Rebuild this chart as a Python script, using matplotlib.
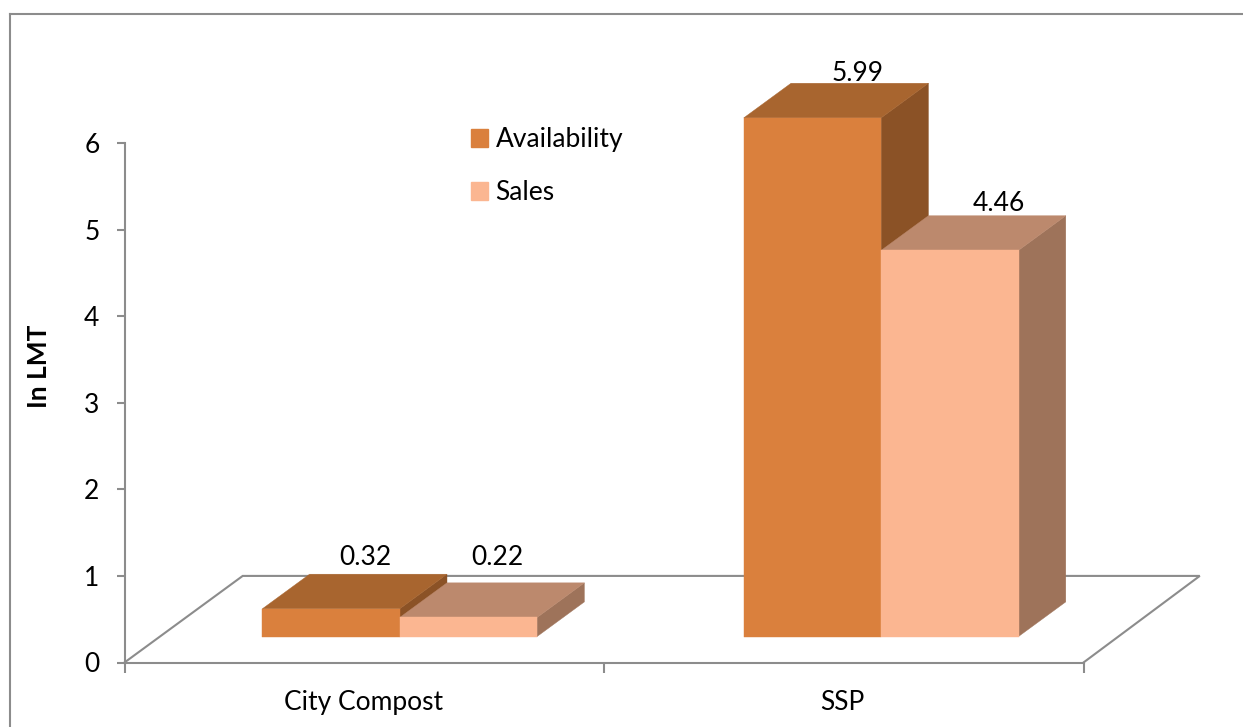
import matplotlib
matplotlib.use("Agg")
import matplotlib.pyplot as plt
from matplotlib.patches import Patch, Polygon

categories = ["City Compost", "SSP"]
series_names = ["Availability", "Sales"]
availability = [0.32, 5.99]
sales = [0.22, 4.46]
y_ticks = [0, 1, 2, 3, 4, 5, 6]

# colours of the three visible faces: front, top, side
AVAIL_COLORS = ("#DA803D", "#A8652F", "#8B5226")
SALES_COLORS = ("#FBB691", "#BC896D", "#9E735A")
GREY = "#8C8C8C"
FONT_SIZE = 19

# the fake 3d: one unit of depth moves this far along x and y
SKEW_X = 0.2465
SKEW_Y = 1.0
BAR_W = 0.2865
BAR_FRONT = 0.30
BAR_BACK = 0.70
GROUP_CENTERS = [0.5, 1.504]

# value labels were placed by hand in the original, offsets in pixels
AVAIL_LABEL_OFFSET = [(-13, 17), (-2, 10)]
SALES_LABEL_OFFSET = [(-18, 25), (2, 12)]

plt.rcParams["font.family"] = ["Lato", "DejaVu Sans"]


def Project(x, y, depth):
    return (x + depth * SKEW_X, y + depth * SKEW_Y)


def DrawBar(ax, left, value, colors, offset):
    right = left + BAR_W
    base = 0
    front = [Project(left, base, BAR_FRONT), Project(right, base, BAR_FRONT),
             Project(right, value, BAR_FRONT), Project(left, value, BAR_FRONT)]
    top = [Project(left, value, BAR_FRONT), Project(right, value, BAR_FRONT),
           Project(right, value, BAR_BACK), Project(left, value, BAR_BACK)]
    side = [Project(right, base, BAR_FRONT), Project(right, base, BAR_BACK),
            Project(right, value, BAR_BACK), Project(right, value, BAR_FRONT)]
    for pts, col in zip((side, top, front), (colors[2], colors[1], colors[0])):
        ax.add_patch(Polygon(pts, closed=True, facecolor=col, edgecolor=col,
                             linewidth=0.3, clip_on=False, zorder=3))
    ax.annotate(f"{value:.2f}", Project(left + BAR_W / 2, value, BAR_BACK),
                xytext=(offset[0] * 0.72, offset[1] * 0.72), textcoords="offset points",
                ha="center", va="center", fontsize=FONT_SIZE, color="black", zorder=5,
                annotation_clip=False)


fig = plt.figure(figsize=(12.43, 7.27), dpi=100)
ax = fig.add_axes([124.5 / 1243, 1 - 662.5 / 727, 959 / 1243, 519.5 / 727])
ax.set_xlim(0, 2)
ax.set_ylim(0, 6)

# chart frame, only top and left are visible in the crop
fig.add_artist(plt.Line2D([10.5 / 1243, 10.5 / 1243], [0, 1 - 14 / 727],
                          color=GREY, linewidth=1.5))
fig.add_artist(plt.Line2D([10 / 1243, 1], [1 - 14 / 727, 1 - 14 / 727],
                          color=GREY, linewidth=1.5))

# floor
floor = [Project(0, 0, 0), Project(0, 0, 1), Project(1.996, 0, 1), Project(2, 0, 0)]
ax.plot([p[0] for p in floor], [p[1] for p in floor], color=GREY, linewidth=1.5,
        clip_on=False, zorder=1, solid_joinstyle="miter")

for i in range(len(categories)):
    center = GROUP_CENTERS[i]
    DrawBar(ax, center - BAR_W, availability[i], AVAIL_COLORS, AVAIL_LABEL_OFFSET[i])
    DrawBar(ax, center, sales[i], SALES_COLORS, SALES_LABEL_OFFSET[i])

ax.spines["top"].set_visible(False)
ax.spines["right"].set_visible(False)
ax.spines["left"].set_color(GREY)
ax.spines["bottom"].set_color(GREY)
ax.spines["left"].set_linewidth(1.5)
ax.spines["bottom"].set_linewidth(1.5)

ax.set_yticks(y_ticks)
ax.set_xticks([0, 1, 2])
ax.set_xticklabels([])
ax.set_xticks([0.498, 1.498], labels=categories, minor=True)
ax.tick_params(axis="x", which="major", length=7, width=1.5, color=GREY)
ax.tick_params(axis="x", which="minor", length=0, pad=20, labelsize=FONT_SIZE)
ax.tick_params(axis="y", length=6, width=1.5, color=GREY, labelsize=FONT_SIZE, pad=12)
ax.set_ylabel("In LMT", fontsize=FONT_SIZE, fontweight="bold", y=0.571, labelpad=24)

handles = [Patch(facecolor=AVAIL_COLORS[0], edgecolor=AVAIL_COLORS[0]),
           Patch(facecolor=SALES_COLORS[0], edgecolor=SALES_COLORS[0])]
ax.legend(handles, series_names, loc="upper left", bbox_to_anchor=(346 / 959, 1.03),
          frameon=False, fontsize=FONT_SIZE, handlelength=0.65, handleheight=0.65,
          handletextpad=0.3, labelspacing=1.05, borderpad=0, borderaxespad=0)

fig.savefig("out.png", dpi=100)
